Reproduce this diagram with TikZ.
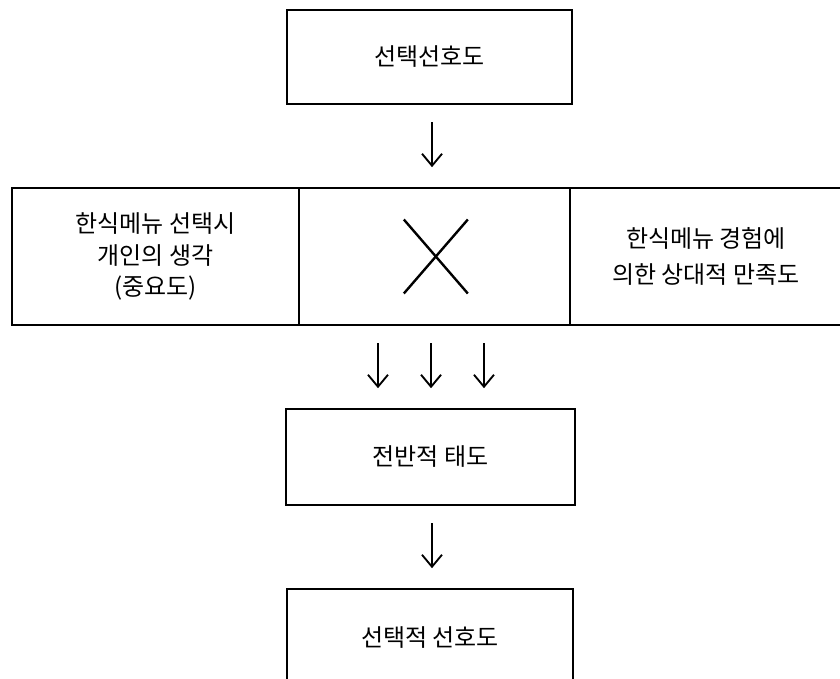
\documentclass[tikz,border=0pt]{standalone}
\usepackage{fontspec}
\newfontfamily\kr{Noto Sans CJK KR}
\usetikzlibrary{arrows.meta}
\begin{document}
\begin{tikzpicture}[x=0.75pt,y=-0.75pt,
  box/.style={draw, line width=2.2pt, inner sep=0pt, align=center, font=\kr\fontsize{18}{23.5}\selectfont},
  arr/.style={line width=1.4pt, -{Straight Barb[length=9pt,width=15pt,line width=1.4pt]}, shorten <=12.5pt, shorten >=14.5pt},
  xline/.style={line width=1.8pt}]
\useasboundingbox (0,0) rectangle (840,679);
\clip (0,0) rectangle (840,679);
\node[box, minimum width=213.75pt, minimum height=70.5pt] (top) at (429.5,57) {선택선호도};
\node[box, minimum width=215.25pt, minimum height=102.75pt] (left) at (155.5,256.5) {한식메뉴 선택시\\개인의 생각\\(중요도)};
\node[box, minimum width=203.25pt, minimum height=102.75pt] (mid) at (434.5,256.5) {};
\node[box, minimum width=204pt, minimum height=102.75pt, font=\kr\fontsize{18}{27}\selectfont] (right) at (706,256.5) {한식메뉴 경험에\\의한 상대적 만족도};
\node[box, minimum width=216.75pt, minimum height=72pt] (b3) at (430.5,457) {전반적 태도};
\node[box, minimum width=214.5pt, minimum height=73.5pt] (b4) at (430,638) {선택적 선호도};
\draw[xline] (mid.center) ++(-23pt,27.75pt) -- ++(48pt,-55.5pt);
\draw[xline] (mid.center) ++(25pt,27.75pt) -- ++(-48pt,-55.5pt);
\draw[arr] ([xshift=1.9pt]top.south) -- ([xshift=1.9pt]top.south |- mid.north);
\draw[arr] ([xshift=-42.4pt]mid.south) -- ([xshift=-42.4pt]mid.south |- b3.north);
\draw[arr] ([xshift=-2.6pt]mid.south) -- ([xshift=-2.6pt]mid.south |- b3.north);
\draw[arr] ([xshift=37.1pt]mid.south) -- ([xshift=37.1pt]mid.south |- b3.north);
\draw[arr] ([xshift=1.1pt]b3.south) -- ([xshift=1.1pt]b3.south |- b4.north);
\end{tikzpicture}
\end{document}
